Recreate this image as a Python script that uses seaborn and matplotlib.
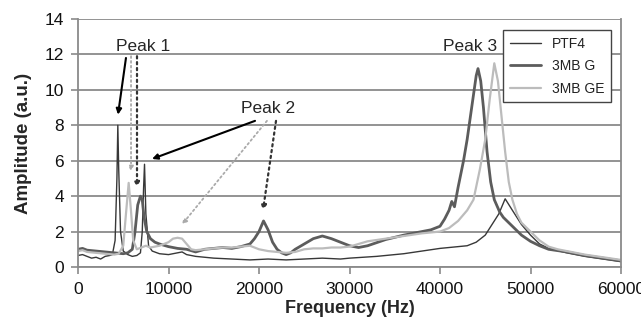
import seaborn as sns
import matplotlib.pyplot as plt
import pandas as pd

# PTF4
ptf4_f = [0, 500, 1000, 1500, 2000, 2500, 3000, 3500, 3800, 4100, 4300, 4400, 4500, 4700, 5000,
          5500, 6000, 6500, 6900, 7100, 7250, 7350, 7500, 7800, 8200, 9000, 10000, 11000, 11500,
          12000, 13000, 14000, 15000, 17000, 19000, 21000, 23000, 25000, 27000, 29000, 30000,
          33000, 36000, 38000, 40000, 42000, 43000, 44000, 45000, 45500, 46000, 46500, 47200,
          48000, 49000, 50000, 51000, 52000, 54000, 56000, 58000, 60000]
ptf4_a = [0.65, 0.7, 0.6, 0.5, 0.55, 0.45, 0.6, 0.65, 0.7, 1.5, 5.0, 8.0, 5.5, 2.0, 0.9,
          0.7, 0.6, 0.65, 0.8, 2.0, 4.5, 5.8, 3.0, 1.2, 0.9, 0.75, 0.7, 0.8, 0.85,
          0.7, 0.6, 0.55, 0.5, 0.45, 0.4, 0.45, 0.4, 0.45, 0.5, 0.45, 0.5,
          0.6, 0.75, 0.9, 1.05, 1.15, 1.2, 1.4, 1.8, 2.2, 2.6, 3.0, 3.85,
          3.2, 2.4, 1.8, 1.3, 1.05, 0.8, 0.6, 0.45, 0.3]

# 3MB G
g_f = [0, 500, 1000, 2000, 3000, 4000, 5000, 5500, 6000, 6300, 6600, 6900, 7100, 7300, 7600,
       8000, 8500, 9000, 10000, 11000, 12000, 13000, 14000, 15000, 16000, 17000, 18000, 19000,
       19500, 20000, 20500, 21000, 21500, 22000, 22500, 23000, 23500, 24000, 25000, 26000,
       27000, 28000, 29000, 30000, 31000, 32000, 34000, 36000, 38000, 39000, 40000, 40500,
       41000, 41300, 41600, 42000, 42600, 43000, 43500, 44000, 44200, 44500, 44800, 45200,
       45600, 46000, 46600, 47000, 48000, 49000, 50000, 51000, 52000, 54000, 56000, 58000, 60000]
g_a = [1.0, 1.05, 0.95, 0.9, 0.85, 0.8, 0.75, 0.8, 1.0, 2.0, 3.5, 4.0, 3.8, 2.8, 2.0,
       1.6, 1.4, 1.3, 1.15, 1.05, 1.0, 0.85, 1.0, 1.05, 1.1, 1.05, 1.15, 1.3,
       1.6, 2.0, 2.6, 2.1, 1.4, 1.0, 0.8, 0.7, 0.8, 1.0, 1.3, 1.6,
       1.75, 1.6, 1.4, 1.2, 1.1, 1.2, 1.55, 1.8, 2.0, 2.1, 2.3, 2.7,
       3.2, 3.7, 3.4, 4.5, 6.0, 7.2, 9.0, 10.8, 11.2, 10.5, 9.0, 6.5,
       4.8, 3.8, 3.1, 2.8, 2.3, 1.8, 1.45, 1.2, 1.0, 0.85, 0.65, 0.5, 0.35]

# 3MB GE
ge_f = [0, 500, 1000, 2000, 3000, 4000, 4500, 5000, 5300, 5600, 5850, 6100, 6500, 7000, 7500,
        8000, 9000, 10000, 10500, 11000, 11500, 12000, 12500, 13000, 14000, 15000, 16000,
        17000, 18000, 19000, 20000, 21000, 22000, 23000, 24000, 25000, 26000, 27000, 28000,
        29000, 30000, 31000, 32000, 34000, 36000, 38000, 40000, 41000, 42000, 43000, 43700,
        44400, 45000, 45500, 46000, 46400, 46800, 47200, 47600, 48000, 48500, 49000, 50000,
        51000, 52000, 53000, 54000, 56000, 58000, 60000]
ge_a = [0.9, 0.95, 0.85, 0.8, 0.75, 0.7, 0.75, 1.2, 3.0, 4.75, 3.2, 1.5, 1.0, 1.1, 1.2,
        1.1, 1.2, 1.4, 1.6, 1.65, 1.6, 1.3, 1.0, 0.95, 1.0, 1.05, 1.1,
        1.1, 1.15, 1.2, 1.0, 0.9, 0.85, 0.8, 0.85, 1.0, 1.05, 1.05, 1.1,
        1.1, 1.15, 1.3, 1.45, 1.6, 1.75, 1.9, 2.0, 2.2, 2.6, 3.2, 3.8,
        5.5, 7.2, 9.5, 11.5, 10.5, 8.5, 6.5, 4.8, 3.8, 3.0, 2.5, 2.0,
        1.5, 1.15, 1.0, 0.9, 0.7, 0.55, 0.4]

sns.set_style("white")
plt.rcParams['font.family'] = ['Liberation Sans', 'DejaVu Sans']

fig = plt.figure(figsize=(6.41, 3.2), dpi=100)
ax = fig.add_axes([78/641, 53/320, 543/641, 248/320])

sns.lineplot(x=ptf4_f, y=ptf4_a, ax=ax, color="#383838", lw=1.0, label="PTF4")
sns.lineplot(x=g_f, y=g_a, ax=ax, color="#5c5c5c", lw=2.0, label="3MB G")
sns.lineplot(x=ge_f, y=ge_a, ax=ax, color="#bcbcbc", lw=1.6, label="3MB GE")

ax.set_xlim(0, 60000)
ax.set_ylim(0, 14)
ax.set_xticks(range(0, 60001, 10000))
ax.set_yticks(range(0, 15, 2))
ax.yaxis.grid(True, color="#8a8a8a", lw=1.3)
ax.set_axisbelow(True)
for s in ["left", "right", "bottom"]:
    ax.spines[s].set_color("#8a8a8a")
    ax.spines[s].set_linewidth(1.3)
ax.spines["top"].set_visible(False)
ax.tick_params(axis="both", direction="out", length=5, color="#8a8a8a", width=1.2,
               labelsize=12.5, labelcolor="#111111")
ax.tick_params(axis="x", bottom=True, pad=6)
ax.tick_params(axis="y", left=True, pad=5)

ax.set_xlabel("Frequency (Hz)", fontsize=13, fontweight="bold", labelpad=2)
ax.set_ylabel("Amplitude (a.u.)", fontsize=13.5, fontweight="bold", labelpad=9)

leg = ax.legend(loc="upper right", bbox_to_anchor=(0.9945, 0.984), fontsize=10,
                frameon=True, fancybox=False, framealpha=1, edgecolor="#444444",
                handlelength=2.2, borderpad=0.5, labelspacing=0.6)
leg.get_frame().set_linewidth(1.0)
for t in leg.get_texts():
    t.set_color("#222222")

# annotations
ax.text(7200, 12.45, "Peak 1", fontsize=12.5, ha="center", va="center")
ax.text(21000, 8.95, "Peak 2", fontsize=12.5, ha="center", va="center")
ax.text(43300, 12.45, "Peak 3", fontsize=12.5, ha="center", va="center")

solid = dict(arrowstyle="-|>", color="black", lw=1.5, mutation_scale=8, shrinkA=0, shrinkB=0)
dot_dark = dict(arrowstyle="-|>", color="#333333", lw=1.6, ls=":", mutation_scale=7,
                shrinkA=0, shrinkB=0)
dot_light = dict(arrowstyle="-|>", color="#aaaaaa", lw=1.3, ls=":", mutation_scale=7,
                 shrinkA=0, shrinkB=0)

ax.annotate("", xy=(4420, 8.6), xytext=(5300, 11.8), arrowprops=solid)
ax.annotate("", xy=(5860, 5.4), xytext=(5860, 11.9), arrowprops=dot_light)
ax.annotate("", xy=(6520, 4.5), xytext=(6520, 11.9), arrowprops=dot_dark)

ax.annotate("", xy=(8180, 6.1), xytext=(19560, 8.25), arrowprops=solid)
ax.annotate("", xy=(11490, 2.4), xytext=(20880, 8.25), arrowprops=dot_light)
ax.annotate("", xy=(20440, 3.2), xytext=(21880, 8.25), arrowprops=dot_dark)

fig.savefig("out.png", dpi=100)
